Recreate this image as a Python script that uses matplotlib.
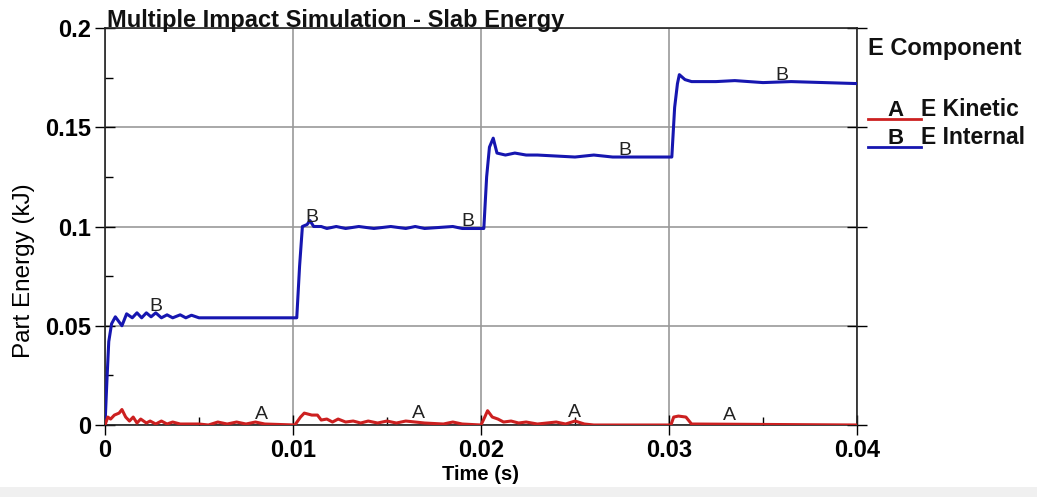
import numpy as np
import matplotlib
matplotlib.use("Agg")
import matplotlib.pyplot as plt
from matplotlib.lines import Line2D
from matplotlib.patches import Rectangle
from matplotlib.ticker import MultipleLocator

plt.rcParams['font.family'] = ['Liberation Sans', 'DejaVu Sans']

# ---- data (time in ms, energy in kJ) ----
t_internal = [0, 0.1, 0.2, 0.35, 0.55, 0.9, 1.15, 1.45, 1.7, 1.95, 2.2, 2.45, 2.7, 3.0,
              3.3, 3.6, 4.0, 4.3, 4.6, 5.0, 5.2, 10.2, 10.35, 10.5, 10.75, 10.9, 11.1,
              11.5, 11.8, 12.3, 12.8, 13.5, 14.3, 15.2, 16.0, 16.5, 17.0, 18.5, 19.0,
              20.15, 20.3, 20.45, 20.65, 20.85, 21.3, 21.8, 22.4, 23.0, 24.0, 25.0,
              26.0, 27.0, 30.15, 30.3, 30.45, 30.55, 30.85, 31.2, 32.5, 33.5, 35.0,
              36.5, 40.0]
e_internal = [0, 0.022, 0.042, 0.051, 0.0545, 0.050, 0.056, 0.054, 0.0565, 0.054, 0.0565,
              0.0545, 0.0565, 0.054, 0.0555, 0.054, 0.0555, 0.054, 0.0553, 0.054, 0.054,
              0.054, 0.08, 0.1, 0.101, 0.103, 0.1, 0.1, 0.099, 0.1, 0.099, 0.1, 0.099,
              0.1, 0.099, 0.1, 0.099, 0.1, 0.099, 0.099, 0.125, 0.14, 0.1445, 0.137,
              0.136, 0.137, 0.136, 0.136, 0.1355, 0.135, 0.136, 0.135, 0.135, 0.16,
              0.172, 0.1765, 0.174, 0.173, 0.173, 0.1735, 0.1725, 0.173, 0.172]

t_kinetic = [0, 0.15, 0.3, 0.5, 0.75, 0.9, 1.1, 1.3, 1.5, 1.7, 1.9, 2.2, 2.4, 2.7, 3.0,
             3.3, 3.6, 4.0, 5.0, 5.5, 6.0, 6.5, 7.0, 7.5, 8.0, 8.5, 10.1, 10.4, 10.6,
             11.0, 11.3, 11.5, 11.8, 12.1, 12.4, 12.8, 13.2, 13.6, 14.0, 14.5, 15.0,
             15.5, 16.0, 17.0, 18.0, 18.5, 19.0, 20.0, 20.2, 20.35, 20.6, 20.9, 21.2,
             21.6, 22.0, 22.4, 23.0, 24.0, 24.5, 25.0, 25.5, 26.0, 30.1, 30.25, 30.5,
             30.9, 31.2, 40.0]
e_kinetic = [0, 0.004, 0.003, 0.005, 0.006, 0.0078, 0.004, 0.002, 0.004, 0.001, 0.003,
             0.001, 0.002, 0.0005, 0.002, 0.0005, 0.0015, 0.0005, 0.0005, 0.0, 0.0015,
             0.0005, 0.0015, 0.0005, 0.0015, 0.0005, 0.0, 0.004, 0.006, 0.005, 0.005,
             0.0025, 0.003, 0.0015, 0.003, 0.0015, 0.002, 0.001, 0.002, 0.001, 0.002,
             0.001, 0.002, 0.001, 0.0005, 0.0015, 0.0005, 0.0, 0.004, 0.0072, 0.004,
             0.003, 0.0015, 0.002, 0.001, 0.0015, 0.0005, 0.0015, 0.0005, 0.002, 0.0005,
             0.0, 0.0, 0.004, 0.0045, 0.004, 0.0005, 0.0]

label_a_t = [8.3, 16.65, 24.95, 33.2]
label_b_t = [2.71, 11.0, 19.3, 27.66, 36.0]

xticks = [0, 0.01, 0.02, 0.03, 0.04]
xtick_labels = ['0', '0.01', '0.02', '0.03', '0.04']
yticks = [0, 0.05, 0.1, 0.15, 0.2]
ytick_labels = ['0', '0.05', '0.1', '0.15', '0.2']

title = 'Multiple Impact Simulation - Slab Energy'
xlabel = 'Time (s)'
ylabel = 'Part Energy (kJ)'
legend_title = 'E Component'
legend_items = [('A', 'E Kinetic'), ('B', 'E Internal')]

RED = '#cc2020'
BLUE = '#1616b0'

# ---- figure ----
fig = plt.figure(figsize=(10.37, 4.97), dpi=100)
fig.patch.set_facecolor('white')
fig.patches.append(Rectangle((0, 0), 1, 10 / 497, transform=fig.transFigure,
                             facecolor='#f0f0f0', edgecolor='none', zorder=0))

ax = fig.add_axes([105 / 1037, 1 - 425 / 497, (857 - 105) / 1037, (425 - 28) / 497])

ti = np.array(t_internal) / 1000.0
tk = np.array(t_kinetic) / 1000.0
ax.plot(ti, e_internal, color=BLUE, lw=2.2, zorder=3)
ax.plot(tk, e_kinetic, color=RED, lw=2.2, zorder=3)

for t in label_a_t:
    x = t / 1000.0
    y = np.interp(x, tk, e_kinetic)
    ax.text(x, y, 'A', ha='center', va='bottom', fontsize=14, color='#222222', zorder=4)
for t in label_b_t:
    x = t / 1000.0
    y = np.interp(x, ti, e_internal)
    ax.text(x, y - 0.001, 'B', ha='center', va='bottom', fontsize=14, color='#222222', zorder=4)

ax.set_xlim(0, 0.04)
ax.set_ylim(0, 0.2)
ax.set_xticks(xticks)
ax.set_xticklabels(xtick_labels)
ax.set_yticks(yticks)
ax.set_yticklabels(ytick_labels)
ax.xaxis.set_minor_locator(MultipleLocator(0.005))
ax.yaxis.set_minor_locator(MultipleLocator(0.025))
ax.tick_params(axis='both', which='major', direction='inout', length=14, width=1,
               labelsize=17, pad=3, top=False, right=True)
ax.tick_params(axis='both', which='minor', direction='in', length=6, width=1,
               top=False, right=False)
for lab in ax.get_xticklabels() + ax.get_yticklabels():
    lab.set_fontweight('bold')
ax.grid(True, which='major', color='#999999', lw=1.2, zorder=1)
for sp in ax.spines.values():
    sp.set_color('#222222')
    sp.set_linewidth(1.2)

ax.set_xlabel(xlabel, fontsize=14.5, fontweight='bold', labelpad=2)
ax.set_ylabel(ylabel, fontsize=17.5, fontweight='normal')
ax.yaxis.set_label_coords(-0.093, 0.388)

fig.text(107 / 1037, 1 - 27 / 497, title, fontsize=17, fontweight='bold',
         ha='left', va='baseline', color='#111111')

# ---- legend (drawn manually in figure coords) ----
fig.text(868 / 1037, 1 - 49 / 497, legend_title, fontsize=17, fontweight='bold',
         ha='left', va='center', color='#111111')
legend_colors = [RED, BLUE]
rows_y = [110, 138]
for (key, name), col, yy in zip(legend_items, legend_colors, rows_y):
    fig.text(896 / 1037, 1 - yy / 497, key, fontsize=16, fontweight='bold',
             ha='center', va='center', color='#111111')
    fig.text(921 / 1037, 1 - yy / 497, name, fontsize=16.5, fontweight='bold',
             ha='left', va='center', color='#111111')
    fig.add_artist(Line2D([868 / 1037, 921 / 1037],
                          [1 - (yy + 8.5) / 497, 1 - (yy + 8.5) / 497],
                          transform=fig.transFigure, color=col, lw=2))

fig.savefig('out.png', dpi=100)
